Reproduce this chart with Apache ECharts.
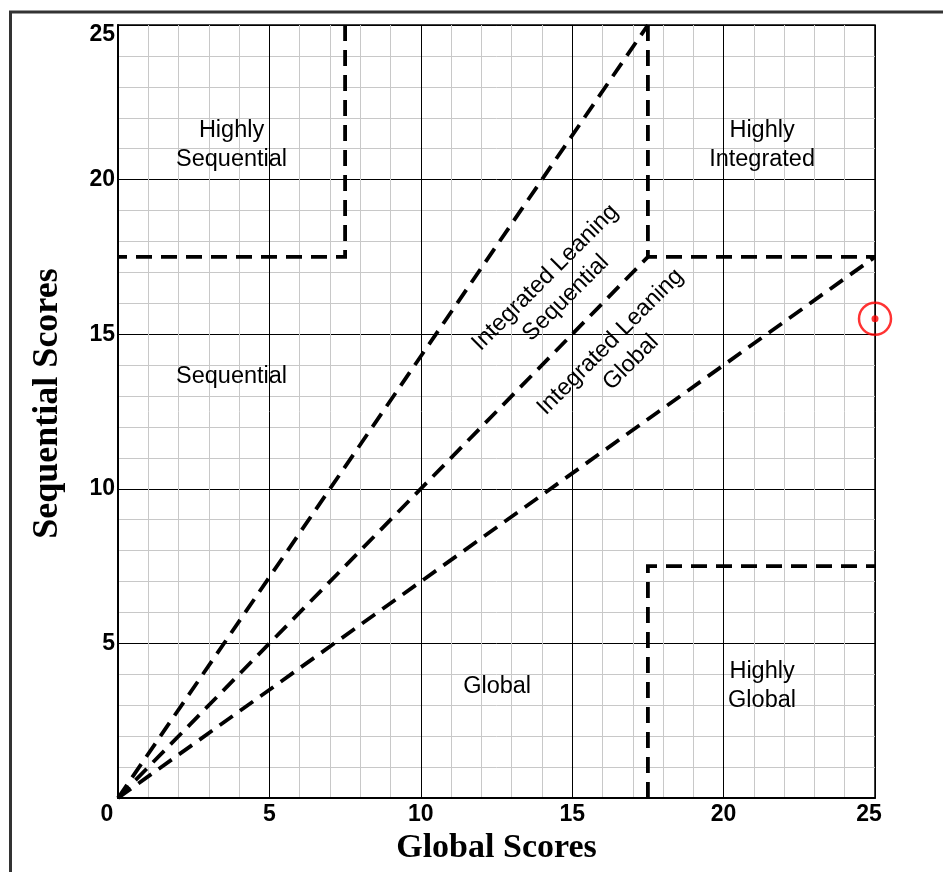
<!DOCTYPE html>
<html>
<head>
<meta charset="utf-8">
<script src="https://cdn.jsdelivr.net/npm/echarts@6/dist/echarts.min.js"></script>
<style>
html,body{margin:0;padding:0;background:#fff;}
#chart{width:943px;height:872px;}
</style>
</head>
<body>
<div id="chart"></div>
<script>
// Axis ranges / ticks
var axisMin = 0, axisMax = 25, majorStep = 5;
var xTitle = 'Global Scores';
var yTitle = 'Sequential Scores';

// Region boundary lines (dashed)
var boundaryHighlySequential = [[7.5, 25], [7.5, 17.5], [0, 17.5]];
var boundaryHighlyIntegrated = [[17.5, 25], [17.5, 17.5], [25, 17.5]];
var boundaryHighlyGlobal = [[17.5, 0], [17.5, 7.5], [25, 7.5]];
var raySteep = [[0, 0], [17.5, 25]];
var rayDiagonal = [[0, 0], [17.5, 17.5]];
var rayShallow = [[0, 0], [25, 17.5]];

// Region labels
var labelTexts = ['Highly\nSequential', 'Highly\nIntegrated', 'Sequential',
  'Integrated Leaning\nSequential', 'Integrated Leaning\nGlobal', 'Global', 'Highly\nGlobal'];
var labelX = [3.75, 21.27, 3.75, 14.45, 16.6, 12.52, 21.27];
var labelY = [21.12, 21.12, 13.62, 16.5, 14.42, 3.62, 3.62];
var labelAngle = [0, 0, 0, 45, 45, 0, 0];

// The score point
var scorePoint = [[25, 15.5]];

var chart = echarts.init(document.getElementById('chart'), null, {renderer: 'canvas'});

var tickFont = {fontFamily: 'Liberation Sans', fontWeight: 'bold', fontSize: 23, color: '#000'};

function lineSeries(data) {
  return {
    type: 'line', data: data, symbol: 'none', silent: true, clip: false,
    lineStyle: {color: '#000', width: 3.8, type: [16, 9], cap: 'butt', join: 'miter'},
    z: 5
  };
}

var annotationData = labelTexts.map(function (t, i) {
  return {value: [labelX[i], labelY[i]], name: t, label: {rotate: labelAngle[i]}};
});

var option = {
  animation: false,
  backgroundColor: '#fff',
  grid: {left: 118, top: 25, right: 68, bottom: 74, show: true, borderColor: '#000', borderWidth: 1.5,
    containLabel: false, outerBoundsMode: 'none'},
  xAxis: {
    type: 'value', min: axisMin, max: axisMax, interval: majorStep,
    name: xTitle, nameLocation: 'middle', nameGap: 31,
    nameTextStyle: {fontFamily: 'Liberation Serif', fontWeight: 'bold', fontSize: 34, color: '#000'},
    axisLine: {show: true, lineStyle: {color: '#000', width: 2}},
    axisTick: {show: false},
    axisLabel: Object.assign({}, tickFont, {
      margin: 5,
      formatter: function (v) {
        if (v === 0) return '{l|0}';
        if (v === 25) return '{r|25}';
        return String(v);
      },
      rich: {
        l: Object.assign({}, tickFont, {padding: [0, 22, 0, 0]}),
        r: Object.assign({}, tickFont, {padding: [0, 12, 0, 0]})
      }
    }),
    splitLine: {show: true, lineStyle: {color: '#000', width: 1}},
    minorTick: {show: false, splitNumber: 5},
    minorSplitLine: {show: true, lineStyle: {color: '#c8c8c8', width: 1}}
  },
  yAxis: {
    type: 'value', min: axisMin, max: axisMax, interval: majorStep,
    name: yTitle, nameLocation: 'middle', nameGap: 52, nameRotate: 90,
    nameTextStyle: {fontFamily: 'Liberation Serif', fontWeight: 'bold', fontSize: 36, color: '#000', padding: [0, 0, 0, 16]},
    axisLine: {show: true, lineStyle: {color: '#000', width: 2}},
    axisTick: {show: false},
    axisLabel: Object.assign({}, tickFont, {
      margin: 3, showMinLabel: false,
      formatter: function (v) {
        if (v === 25) return '{t|25}';
        return String(v);
      },
      rich: {
        t: Object.assign({}, tickFont, {padding: [20, 0, 0, 0]})
      }
    }),
    splitLine: {show: true, lineStyle: {color: '#000', width: 1}},
    minorTick: {show: false, splitNumber: 5},
    minorSplitLine: {show: true, lineStyle: {color: '#c8c8c8', width: 1}}
  },
  graphic: [{
    type: 'rect', z: 100, silent: true,
    shape: {x: 10.5, y: 12, width: 1000, height: 1000},
    style: {fill: 'none', stroke: '#333', lineWidth: 3}
  }],
  series: [
    lineSeries(boundaryHighlySequential),
    lineSeries(boundaryHighlyIntegrated),
    lineSeries(boundaryHighlyGlobal),
    lineSeries(raySteep),
    lineSeries(rayDiagonal),
    lineSeries(rayShallow),
    {
      type: 'scatter', data: annotationData, symbolSize: 1, silent: true, clip: false,
      itemStyle: {color: 'rgba(0,0,0,0)'},
      label: {
        show: true, position: 'inside', formatter: '{b}',
        fontFamily: 'Liberation Sans', fontSize: 23.5, lineHeight: 29, color: '#000',
        textBorderWidth: 0, textBorderColor: 'transparent', opacity: 1,
        align: 'center', verticalAlign: 'middle'
      },
      labelLayout: {hideOverlap: false},
      z: 6
    },
    {
      type: 'scatter', data: scorePoint, symbol: 'circle', symbolSize: 32, clip: false, silent: true,
      itemStyle: {color: 'rgba(0,0,0,0)', borderColor: '#ff0000', borderWidth: 2.5},
      z: 10
    },
    {
      type: 'scatter', data: scorePoint, symbol: 'circle', symbolSize: 7, clip: false, silent: true,
      itemStyle: {color: '#ff0000'},
      z: 11
    }
  ]
};
chart.setOption(option);
</script>
</body>
</html>
